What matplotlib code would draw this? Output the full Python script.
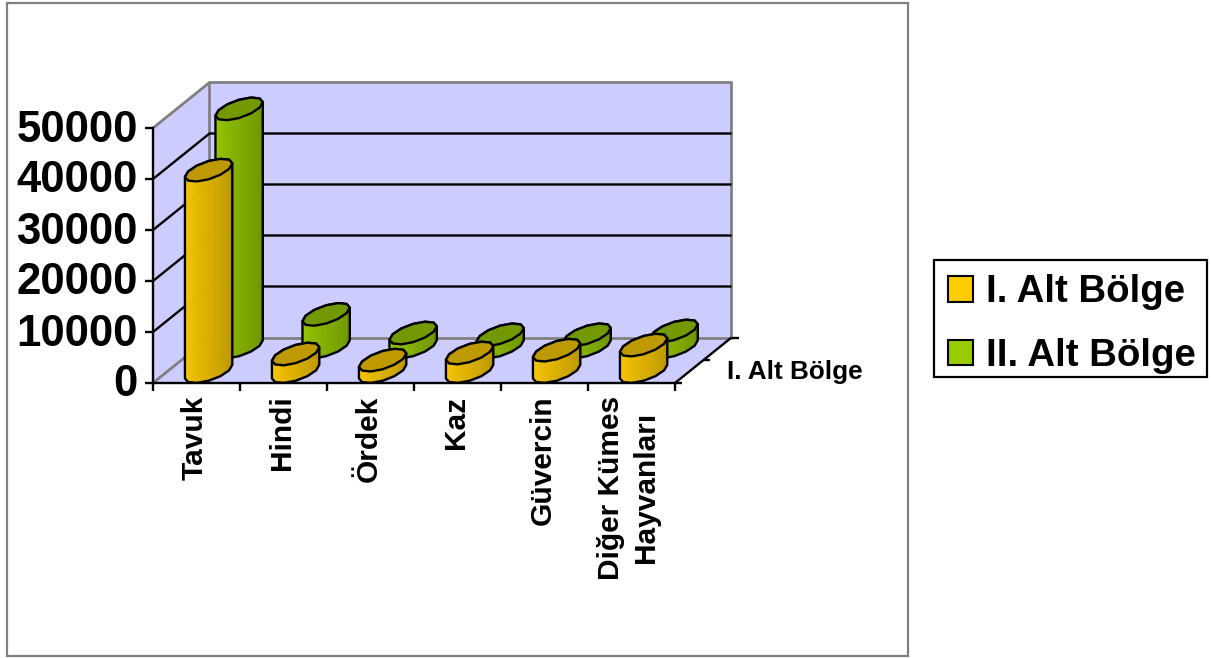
# Grafico de columnas cilindricas con perspectiva oblicua
import numpy as np
import matplotlib
matplotlib.use('Agg')
import matplotlib.pyplot as plt
from matplotlib.colors import to_rgb
from matplotlib.patches import Patch, Polygon, Rectangle
from matplotlib.transforms import ScaledTranslation

plt.rcParams['font.family'] = ['Liberation Sans', 'DejaVu Sans']
plt.rcParams['font.weight'] = 'bold'

categorias = ['Tavuk', 'Hindi', 'Ördek', 'Kaz', 'Güvercin', 'Diğer Kümes\nHayvanları']
serie_1 = [39500, 3450, 2250, 3650, 4200, 5200]
serie_2 = [46700, 6400, 2750, 2400, 2400, 3150]
nombres = ['I. Alt Bölge', 'II. Alt Bölge']
ticks_y = [0, 10000, 20000, 30000, 40000, 50000]

W, H = 1211, 658
# plano frontal en pixeles y desplazamiento de la profundidad
X0, X1, Y0, Y1 = 153, 675, 383, 128
DX_PX, DY_PX = 56.5, 45.5
COLOR_PARED, COLOR_BORDE = '#CCCCFF', '#808080'

fig = plt.figure(figsize=(W / 100, H / 100), dpi=100, facecolor='white')
fig.add_artist(Rectangle((7 / W, 1 - 655.5 / H), 901 / W, 652.5 / H, transform=fig.transFigure,
                         facecolor='none', edgecolor=COLOR_BORDE, linewidth=1.6))

ax = fig.add_axes([X0 / W, 1 - Y0 / H, (X1 - X0) / W, (Y0 - Y1) / H])
ax.set_xlim(0, len(categorias))
ax.set_ylim(0, 50000)
ax.patch.set_visible(False)
for s in ['top', 'right']:
    ax.spines[s].set_visible(False)
for s in ['left', 'bottom']:
    ax.spines[s].set_linewidth(1.7)
    ax.spines[s].set_zorder(6)

px_x = len(categorias) / (X1 - X0)
px_y = 50000 / (Y0 - Y1)
DX, DY = DX_PX * px_x, DY_PX * px_y


def proy(x, y, d):
    return x + d * DX, y + d * DY


def linea(xs, ys, ds, color='black', lw=1.7, z=2):
    px, py = proy(np.array(xs, float), np.array(ys, float), np.array(ds, float))
    ax.plot(px, py, color=color, lw=lw, zorder=z, clip_on=False, solid_capstyle='butt')


nc = len(categorias)
# paredes y suelo
for pts in ([(0, 0, 0), (0, 50000, 0), (0, 50000, 1), (0, 0, 1)],
            [(0, 0, 1), (0, 50000, 1), (nc, 50000, 1), (nc, 0, 1)],
            [(0, 0, 0), (nc, 0, 0), (nc, 0, 1), (0, 0, 1)]):
    ax.add_patch(Polygon([proy(*p) for p in pts], closed=True, facecolor=COLOR_PARED,
                         edgecolor='none', zorder=1, clip_on=False))
linea([0, 0, nc, nc], [50000, 50000, 50000, 0], [0, 1, 1, 1], COLOR_BORDE, lw=2)
linea([0, 0, 0], [0, 0, 50000], [0, 1, 1], COLOR_BORDE, lw=2)
linea([0, nc], [0, 0], [1, 1], COLOR_BORDE, lw=2)
for v in ticks_y[1:-1]:
    linea([0, 0, nc], [v, v, v], [0, 1, 1])
linea([nc, nc], [0, 0], [0, 1])
# marcas del eje de profundidad
t = 7 * px_x
for d in [0, 0.5, 1]:
    linea([nc, nc + t], [0, 0], [d, d])


def cilindro(i, valor, d, base, oscuro, tapa, z):
    cx = i + 0.5 - 2 * px_x
    rx_px, rd = 19.0, 0.25
    th0 = np.arctan2(rd * DX_PX, rx_px)
    n = 12
    th = th0 + 2 * np.pi * np.arange(n + 1) / n
    xs = cx + rx_px * px_x * np.cos(th)
    ds = d + rd * np.sin(th)
    xb, yb = proy(xs, np.zeros(n + 1), ds)
    xt, yt = proy(xs, np.full(n + 1, float(valor)), ds)
    c0, c1 = np.array(to_rgb(base)), np.array(to_rgb(oscuro))
    # caras visibles: de izquierda a derecha por el frente, con franjas finas
    for k in range(n // 2, n):
        for j in range(4):
            a, b = j / 4, (j + 1) / 4
            f = (k - n // 2 + a) / (n // 2)
            col = c0 + (c1 - c0) * f
            xa, ya = xb[k] + (xb[k + 1] - xb[k]) * a, yb[k] + (yb[k + 1] - yb[k]) * a
            xc, yc = xb[k] + (xb[k + 1] - xb[k]) * b, yb[k] + (yb[k + 1] - yb[k]) * b
            xd, yd = xt[k] + (xt[k + 1] - xt[k]) * b, yt[k] + (yt[k + 1] - yt[k]) * b
            xe, ye = xt[k] + (xt[k + 1] - xt[k]) * a, yt[k] + (yt[k + 1] - yt[k]) * a
            ax.add_patch(Polygon([(xa, ya), (xc, yc), (xd, yd), (xe, ye)], closed=True,
                                 facecolor=col, edgecolor=col, lw=0.4, zorder=z, clip_on=False))
    sil = list(zip(xb[n // 2:n + 1], yb[n // 2:n + 1])) + list(zip(xt[:n // 2 + 1], yt[:n // 2 + 1]))
    ax.add_patch(Polygon(sil, closed=True, facecolor='none', edgecolor='black', lw=1.7,
                         joinstyle='round', zorder=z + 0.1, clip_on=False))
    ax.add_patch(Polygon(list(zip(xt[:n], yt[:n])), closed=True, facecolor=tapa, edgecolor='black', lw=1.7,
                         joinstyle='round', zorder=z + 0.2, clip_on=False))


for i, v in enumerate(serie_2):
    cilindro(i, v, 0.79, '#99CC00', '#668C00', '#739900', 3 + i * 0.01)
for i, v in enumerate(serie_1):
    cilindro(i, v, 0.25, '#FFCC00', '#B38F00', '#BF9900', 4 + i * 0.01)

ax.set_yticks(ticks_y)
ax.set_yticklabels([str(v) for v in ticks_y], fontsize=31.5, fontweight='bold')
ax.tick_params(axis='y', length=6, width=1.7, pad=5)
ax.set_xticks(range(nc + 1))
ax.set_xticklabels([''] * (nc + 1))
ax.tick_params(axis='x', which='major', length=6, width=1.7)
ax.set_xticks(np.arange(nc) + 0.48, minor=True)
ax.set_xticklabels(categorias, minor=True, rotation=90, fontsize=21.5, fontweight='bold',
                   va='top', ha='center', linespacing=1.3)
ax.tick_params(axis='x', which='minor', length=0, pad=9)

# ajuste fino de las etiquetas
sube = ScaledTranslation(0, 2.5 / 100, fig.dpi_scale_trans)
for lab in ax.get_yticklabels():
    lab.set_transform(lab.get_transform() + sube)
ult = ax.get_xticklabels(minor=True)[-1]
ult.set_transform(ult.get_transform() + ScaledTranslation(-1 / 100, 0, fig.dpi_scale_trans))

fig.text(727 / W, 1 - 372 / H, nombres[0], fontsize=18.8, fontweight='bold', va='center', ha='left')

# leyenda con marco propio para fijar su tamano
fig.add_artist(Rectangle((934 / W, 1 - 377 / H), 273 / W, 117 / H, transform=fig.transFigure,
                         facecolor='white', edgecolor='black', linewidth=1.6))
handles = [Patch(facecolor='#FFCC00', edgecolor='black', linewidth=1.5),
           Patch(facecolor='#99CC00', edgecolor='black', linewidth=1.5)]
leg = fig.legend(handles, nombres, loc='center left', bbox_to_anchor=(948 / W, 1 - 324 / H),
                 fontsize=27.6, frameon=False, handlelength=0.65, handleheight=0.65,
                 handletextpad=0.34, borderpad=0, labelspacing=0.72, borderaxespad=0)
for txt in leg.get_texts():
    txt.set_fontweight('bold')

plt.savefig('out.png', dpi=100, facecolor='white')
